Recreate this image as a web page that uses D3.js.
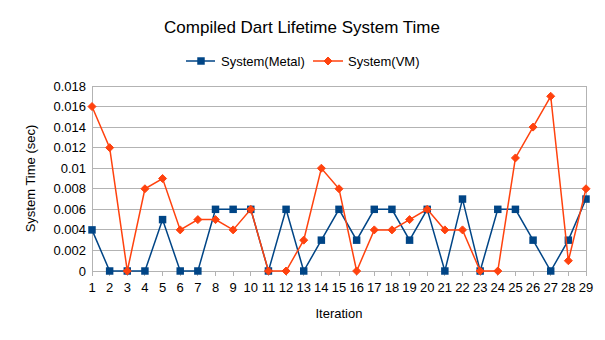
<!DOCTYPE html>
<html><head><meta charset="utf-8">
<script src="https://cdn.jsdelivr.net/npm/d3@7"></script>
<style>body{margin:0;background:#fff}text{font-family:"Liberation Sans",Arial,sans-serif;fill:#000}</style>
</head><body><svg id="c" width="605" height="340"></svg>
<script>
const iterations = d3.range(1, 30);
const metal = [0.004,0,0,0,0.005,0,0,0.006,0.006,0.006,0,0.006,0,0.003,0.006,0.003,0.006,0.006,0.003,0.006,0,0.007,0,0.006,0.006,0.003,0,0.003,0.007];
const vm = [0.016,0.012,0,0.008,0.009,0.004,0.005,0.005,0.004,0.006,0,0,0.003,0.01,0.008,0,0.004,0.004,0.005,0.006,0.004,0.004,0,0,0.011,0.014,0.017,0.001,0.008];
const yTicks = [0,0.002,0.004,0.006,0.008,0.01,0.012,0.014,0.016,0.018];
const seriesNames = ["System(Metal)","System(VM)"];
const colors = ["#004586","#ff420e"];

const svg = d3.select("#c");
const L=92, R=586, T=86, B=271;
const x = d3.scaleLinear().domain([1,29]).range([L,R]);
const y = d3.scaleLinear().domain([0,0.018]).range([B,T]);

svg.append("g").selectAll("line").data(yTicks).join("line")
  .attr("x1",L).attr("x2",R).attr("y1",d=>y(d)).attr("y2",d=>y(d))
  .attr("stroke","#b3b3b3").attr("stroke-width",1).attr("shape-rendering","crispEdges");
svg.append("line").attr("x1",R).attr("x2",R).attr("y1",T).attr("y2",B).attr("stroke","#b3b3b3").attr("shape-rendering","crispEdges");
svg.append("line").attr("x1",L).attr("x2",L).attr("y1",T).attr("y2",B).attr("stroke","#b3b3b3").attr("shape-rendering","crispEdges");
svg.append("g").selectAll("line").data(iterations).join("line")
  .attr("x1",d=>x(d)).attr("x2",d=>x(d)).attr("y1",B).attr("y2",B+5)
  .attr("stroke","#b3b3b3").attr("shape-rendering","crispEdges");
svg.append("g").selectAll("text").data(yTicks).join("text")
  .attr("x",L-6).attr("y",d=>y(d)+4.5).attr("text-anchor","end").attr("font-size",13)
  .text(d=>d===0?"0":String(+d.toFixed(3)));
svg.append("g").selectAll("text").data(iterations).join("text")
  .attr("x",d=>x(d)).attr("y",B+21).attr("text-anchor","middle").attr("font-size",13)
  .text(d=>d);

svg.append("text").attr("x",302).attr("y",33).attr("text-anchor","middle").attr("font-size",17).text("Compiled Dart Lifetime System Time");
svg.append("text").attr("x",339).attr("y",318).attr("text-anchor","middle").attr("font-size",13).text("Iteration");
svg.append("text").attr("transform","translate(35,"+((T+B)/2)+") rotate(-90)").attr("text-anchor","middle").attr("font-size",13).text("System Time (sec)");

const line = d3.line().x((d,i)=>x(iterations[i])).y(d=>y(d));
const sq = d3.symbol().type(d3.symbolSquare).size(56);
const diaPath = "M0,-4L4,0L0,4L-4,0Z";
[metal, vm].forEach((data,k)=>{
  svg.append("path").datum(data).attr("d",line).attr("fill","none").attr("stroke",colors[k]).attr("stroke-width",1.5);
  svg.append("g").selectAll("path").data(data).join("path")
    .attr("transform",(d,i)=>`translate(${x(iterations[i])},${y(d)})`)
    .attr("d",k===0?sq():diaPath).attr("fill",colors[k])
    .attr("stroke",k===1?colors[k]:"none").attr("stroke-width",1).attr("stroke-linejoin","round");
});

const lg = [{x1:186,x2:215,cx:201,tx:221},{x1:313,x2:343,cx:328,tx:348}];
lg.forEach((p,k)=>{
  svg.append("line").attr("x1",p.x1).attr("x2",p.x2).attr("y1",61).attr("y2",61).attr("stroke",colors[k]).attr("stroke-width",1.5);
  svg.append("path").attr("transform",`translate(${p.cx},61)`).attr("d",k===0?sq():diaPath).attr("fill",colors[k])
    .attr("stroke",k===1?colors[k]:"none").attr("stroke-linejoin","round");
  svg.append("text").attr("x",p.tx).attr("y",66).attr("font-size",13).text(seriesNames[k]);
});
</script></body></html>
